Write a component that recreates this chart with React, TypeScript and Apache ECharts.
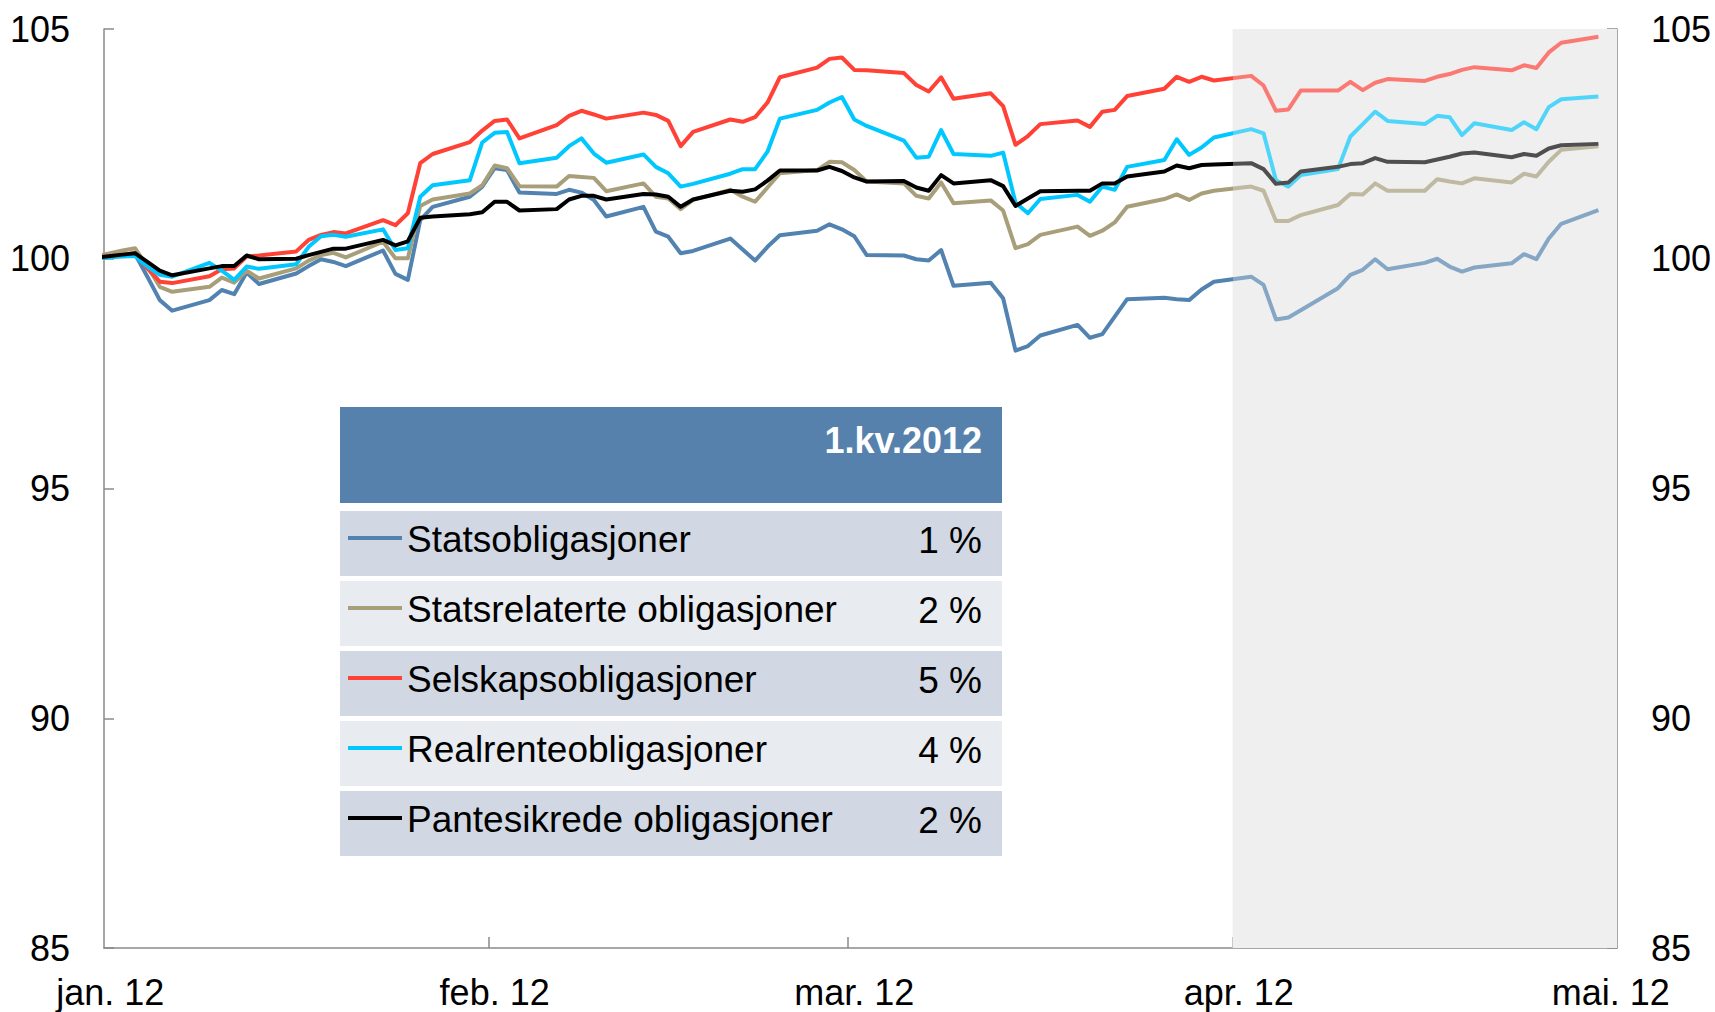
import React, { useEffect, useRef } from 'react';
import * as echarts from 'echarts';

// ---- DATA ----
const dates = [
  '2011-12-30',
  '2012-01-02', '2012-01-03', '2012-01-04', '2012-01-05', '2012-01-06',
  '2012-01-09', '2012-01-10', '2012-01-11', '2012-01-12', '2012-01-13',
  '2012-01-16', '2012-01-17', '2012-01-18', '2012-01-19', '2012-01-20',
  '2012-01-23', '2012-01-24', '2012-01-25', '2012-01-26', '2012-01-27',
  '2012-01-30', '2012-01-31', '2012-02-01', '2012-02-02', '2012-02-03',
  '2012-02-06', '2012-02-07', '2012-02-08', '2012-02-09', '2012-02-10',
  '2012-02-13', '2012-02-14', '2012-02-15', '2012-02-16', '2012-02-17',
  '2012-02-20', '2012-02-21', '2012-02-22', '2012-02-23', '2012-02-24',
  '2012-02-27', '2012-02-28', '2012-02-29', '2012-03-01', '2012-03-02',
  '2012-03-05', '2012-03-06', '2012-03-07', '2012-03-08', '2012-03-09',
  '2012-03-12', '2012-03-13', '2012-03-14', '2012-03-15', '2012-03-16',
  '2012-03-19', '2012-03-20', '2012-03-21', '2012-03-22', '2012-03-23',
  '2012-03-26', '2012-03-27', '2012-03-28', '2012-03-29', '2012-03-30',
  '2012-04-02', '2012-04-03', '2012-04-04', '2012-04-05', '2012-04-06',
  '2012-04-09', '2012-04-10', '2012-04-11', '2012-04-12', '2012-04-13',
  '2012-04-16', '2012-04-17', '2012-04-18', '2012-04-19', '2012-04-20',
  '2012-04-23', '2012-04-24', '2012-04-25', '2012-04-26', '2012-04-27',
  '2012-04-30',
];

const statsobligasjoner = [
  100.0,
  100.07, 100.1, 99.61, 99.1, 98.87,
  99.1, 99.32, 99.23, 99.7, 99.45,
  99.68, 99.84, 99.99, 99.93, 99.84,
  100.18, 99.67, 99.54, 100.84, 101.13,
  101.35, 101.57, 101.97, 101.93, 101.44,
  101.41, 101.5, 101.44, 101.28, 100.92,
  101.13, 100.59, 100.48, 100.12, 100.17,
  100.44, 100.2, 99.96, 100.26, 100.51,
  100.61, 100.75, 100.64, 100.49, 100.08,
  100.07, 99.99, 99.96, 100.19, 99.41,
  99.48, 99.14, 98.0, 98.1, 98.33,
  98.56, 98.28, 98.36, 98.74, 99.12,
  99.15, 99.12, 99.1, 99.33, 99.5,
  99.61, 99.43, 98.68, 98.72, 98.88,
  99.36, 99.65, 99.76, 99.99, 99.77,
  99.91, 100.0, 99.83, 99.72, 99.81,
  99.9, 100.1, 99.99, 100.44, 100.76,
  101.06,
];

const statsrelaterte = [
  100.0,
  100.18, 100.23, 99.83, 99.39, 99.28,
  99.39, 99.59, 99.48, 99.74, 99.57,
  99.79, 99.96, 100.08, 100.13, 100.03,
  100.37, 100.01, 100.01, 101.15, 101.29,
  101.42, 101.6, 102.03, 101.97, 101.58,
  101.57, 101.8, 101.78, 101.76, 101.47,
  101.64, 101.35, 101.31, 101.08, 101.28,
  101.5, 101.35, 101.24, 101.55, 101.86,
  101.93, 102.11, 102.1, 101.93, 101.68,
  101.64, 101.37, 101.31, 101.66, 101.21,
  101.27, 101.05, 100.23, 100.32, 100.52,
  100.7, 100.5, 100.61, 100.79, 101.13,
  101.3, 101.4, 101.28, 101.42, 101.48,
  101.57, 101.48, 100.82, 100.82, 100.95,
  101.17, 101.41, 101.4, 101.64, 101.48,
  101.48, 101.73, 101.68, 101.64, 101.75,
  101.66, 101.85, 101.79, 102.11, 102.37,
  102.45,
];

const selskapsobligasjoner = [
  100.0,
  100.09, 100.12, 99.79, 99.5, 99.47,
  99.62, 99.77, 99.79, 100.05, 100.07,
  100.16, 100.41, 100.52, 100.58, 100.55,
  100.84, 100.73, 100.99, 102.08, 102.28,
  102.54, 102.79, 103.0, 103.03, 102.62,
  102.91, 103.11, 103.22, 103.14, 103.05,
  103.18, 103.13, 103.0, 102.45, 102.76,
  103.03, 102.98, 103.08, 103.4, 103.95,
  104.16, 104.35, 104.38, 104.11, 104.1,
  104.04, 103.78, 103.64, 103.95, 103.48,
  103.6, 103.32, 102.48, 102.67, 102.93,
  103.01, 102.87, 103.2, 103.24, 103.54,
  103.7, 103.96, 103.85, 103.96, 103.88,
  103.98, 103.77, 103.22, 103.25, 103.66,
  103.66, 103.85, 103.67, 103.83, 103.91,
  103.87, 103.96, 104.02, 104.11, 104.17,
  104.1, 104.21, 104.15, 104.49, 104.7,
  104.83,
];

const realrenteobligasjoner = [
  100.0,
  100.05, 100.06, 99.83, 99.65, 99.61,
  99.91, 99.74, 99.54, 99.83, 99.78,
  99.88, 100.26, 100.49, 100.52, 100.48,
  100.64, 100.19, 100.23, 101.35, 101.6,
  101.71, 102.53, 102.74, 102.76, 102.08,
  102.2, 102.45, 102.62, 102.29, 102.09,
  102.27, 102.0, 101.86, 101.57, 101.63,
  101.85, 101.95, 101.95, 102.33, 103.05,
  103.24, 103.4, 103.52, 103.03, 102.89,
  102.57, 102.2, 102.22, 102.8, 102.28,
  102.24, 102.31, 101.22, 100.99, 101.3,
  101.39, 101.24, 101.57, 101.5, 102.0,
  102.15, 102.6, 102.26, 102.42, 102.64,
  102.82, 102.73, 101.71, 101.57, 101.82,
  101.95, 102.66, 102.93, 103.2, 103.0,
  102.93, 103.11, 103.08, 102.69, 102.95,
  102.8, 102.97, 102.82, 103.3, 103.47,
  103.53,
];

const pantesikrede = [
  100.0,
  100.09, 100.12, 99.93, 99.74, 99.64,
  99.79, 99.84, 99.84, 100.07, 99.99,
  100.0, 100.08, 100.15, 100.22, 100.22,
  100.41, 100.29, 100.38, 100.89, 100.92,
  100.97, 101.01, 101.24, 101.24, 101.05,
  101.08, 101.29, 101.37, 101.37, 101.29,
  101.41, 101.4, 101.35, 101.13, 101.29,
  101.48, 101.46, 101.51, 101.7, 101.92,
  101.92, 102.0, 101.91, 101.77, 101.68,
  101.69, 101.55, 101.48, 101.82, 101.64,
  101.71, 101.58, 101.15, 101.31, 101.47,
  101.48, 101.48, 101.64, 101.64, 101.79,
  101.9, 102.03, 101.97, 102.04, 102.05,
  102.08, 101.95, 101.63, 101.66, 101.9,
  102.0, 102.06, 102.08, 102.19, 102.11,
  102.1, 102.16, 102.22, 102.29, 102.31,
  102.21, 102.28, 102.24, 102.4, 102.47,
  102.5,
];

const seriesNames = [
  'Statsobligasjoner',
  'Statsrelaterte obligasjoner',
  'Selskapsobligasjoner',
  'Realrenteobligasjoner',
  'Pantesikrede obligasjoner',
];
const quarterReturns = ['1 %', '2 %', '5 %', '4 %', '2 %'];
const tableHeader = '1.kv.2012';

const monthStarts = ['2012-01-01', '2012-02-01', '2012-03-01', '2012-04-01', '2012-05-01'];
const monthLabels = ['jan. 12', 'feb. 12', 'mar. 12', 'apr. 12', 'mai. 12'];
const axisStart = '2012-01-01';
const axisEnd = '2012-05-02';
const shadeStart = '2012-04-01';

// ---- STYLE ----
const FONT = '"Liberation Sans", Arial, Helvetica, sans-serif';
const colors = ['#5182B0', '#A89F7A', '#FF4136', '#00C8FF', '#000000'];
const SHADE = [239, 239, 239];
const SHADE_ALPHA = 0.33;
const AXIS_COLOR = '#8a8a8a';
const HALF_DAY = 43200000;

function fade(hex: string): string {
  const n = parseInt(hex.slice(1), 16);
  const c = [(n >> 16) & 255, (n >> 8) & 255, n & 255];
  const m = c.map((v, i) => Math.round(v * (1 - SHADE_ALPHA) + SHADE[i] * SHADE_ALPHA));
  return 'rgb(' + m.join(',') + ')';
}

const dayStart = (d: string) => Date.parse(d + 'T00:00:00Z');
const plotTime = (d: string) => dayStart(d) + HALF_DAY; // points sit mid-day

export default function App() {
  const ref = useRef<HTMLDivElement>(null);

  useEffect(() => {
    if (!ref.current) return;
    const chart = echarts.init(ref.current, undefined, { renderer: 'svg' });

    const allValues = [statsobligasjoner, statsrelaterte, selskapsobligasjoner, realrenteobligasjoner, pantesikrede];
    const shadeT = dayStart(shadeStart);
    const endT = dayStart(axisEnd);
    const firstT = plotTime(dates[0]) - 86400000;
    const lastT = endT + 86400000;
    const monthTs = monthStarts.map(dayStart);
    const monthMid = monthTs.map((t) => t + HALF_DAY);

    const series: any[] = allValues.map((vals, i) => ({
      name: seriesNames[i],
      type: 'line',
      data: dates.map((d, j) => [plotTime(d), vals[j]]),
      showSymbol: false,
      symbol: 'none',
      clip: true,
      lineStyle: { width: 4, join: 'round', cap: 'butt' },
      z: 3 + i,
    }));

    series.push({
      name: 'shade',
      type: 'line',
      data: dates.map((d, j) => [plotTime(d), pantesikrede[j]]),
      showSymbol: false,
      symbol: 'none',
      silent: true,
      lineStyle: { opacity: 0, width: 0 },
      z: 1,
      markArea: {
        silent: true,
        itemStyle: { color: 'rgb(239,239,239)' },
        data: [[{ xAxis: shadeT }, { xAxis: endT }]],
      },
    });

    const visualMap = allValues.map((_, i) => ({
      type: 'piecewise',
      show: false,
      seriesIndex: i,
      dimension: 0,
      pieces: [
        { min: firstT, max: shadeT, color: colors[i] },
        { min: shadeT, max: lastT, color: fade(colors[i]) },
      ],
    }));

    const left = 340, width = 662, right = left + width;
    const headerTop = 407, headerH = 96;
    const rowTop0 = 511, rowPitch = 70, rowH = 65;
    const rowColors = ['#D1D8E3', '#E8EBF0'];

    const elements: any[] = [
      { type: 'rect', x: left, y: headerTop, shape: { x: 0, y: 0, width, height: headerH }, style: { fill: '#5581AC' }, silent: true },
      {
        type: 'text', x: right - 20, y: headerTop + 33, silent: true,
        style: {
          text: tableHeader, fill: '#ffffff', fontSize: 36, fontWeight: 'bold', fontFamily: FONT,
          align: 'right', verticalAlign: 'middle', textAlign: 'right', textVerticalAlign: 'middle',
        },
      },
    ];
    seriesNames.forEach((name, i) => {
      const top = rowTop0 + i * rowPitch;
      elements.push({ type: 'rect', x: left, y: top, shape: { x: 0, y: 0, width, height: rowH }, style: { fill: rowColors[i % 2] }, silent: true });
      elements.push({ type: 'line', shape: { x1: left + 8, y1: top + 27, x2: left + 62, y2: top + 27 }, style: { stroke: colors[i], lineWidth: 4 }, silent: true });
      elements.push({
        type: 'text', x: left + 67, y: top + 28, silent: true,
        style: {
          text: name, fill: '#000', fontSize: 37, fontFamily: FONT,
          align: 'left', verticalAlign: 'middle', textAlign: 'left', textVerticalAlign: 'middle',
        },
      });
      elements.push({
        type: 'text', x: right - 20, y: top + 29, silent: true,
        style: {
          text: quarterReturns[i], fill: '#000', fontSize: 37, fontFamily: FONT,
          align: 'right', verticalAlign: 'middle', textAlign: 'right', textVerticalAlign: 'middle',
        },
      });
    });

    const yAxisBase = {
      type: 'value',
      min: 85,
      max: 105,
      interval: 5,
      splitLine: { show: false },
      axisLine: { show: true, lineStyle: { color: AXIS_COLOR, width: 1.5 } },
      axisTick: { show: true, inside: true, length: 10, lineStyle: { color: AXIS_COLOR, width: 1.5 } },
      axisLabel: { fontSize: 36, color: '#000', fontFamily: FONT, margin: 34 },
    };

    chart.setOption({
      animation: false,
      backgroundColor: '#ffffff',
      textStyle: { fontFamily: FONT },
      grid: { left: 104, right: 98, top: 29, bottom: 64, containLabel: false },
      xAxis: {
        type: 'value',
        min: dayStart(axisStart),
        max: endT,
        splitLine: { show: false },
        axisLine: { show: true, lineStyle: { color: AXIS_COLOR, width: 1.5 } },
        axisTick: {
          show: true, inside: true, length: 11,
          customValues: monthTs.slice(1),
          lineStyle: { color: AXIS_COLOR, width: 1.5 },
        },
        axisLabel: {
          customValues: monthMid,
          fontSize: 36, lineHeight: 34, color: '#000', fontFamily: FONT, margin: 27,
          formatter: (v: number) => {
            let best = 0;
            monthMid.forEach((t, k) => { if (Math.abs(t - v) < Math.abs(monthMid[best] - v)) best = k; });
            return monthLabels[best];
          },
        },
      },
      yAxis: [
        { ...yAxisBase, position: 'left' },
        { ...yAxisBase, position: 'right' },
      ],
      visualMap,
      series,
      graphic: { elements },
    });

    return () => chart.dispose();
  }, []);

  return (
    <div
      ref={ref}
      style={{ position: 'absolute', left: 0, top: 0, width: 1715, height: 1012, background: '#fff' }}
    />
  );
}
